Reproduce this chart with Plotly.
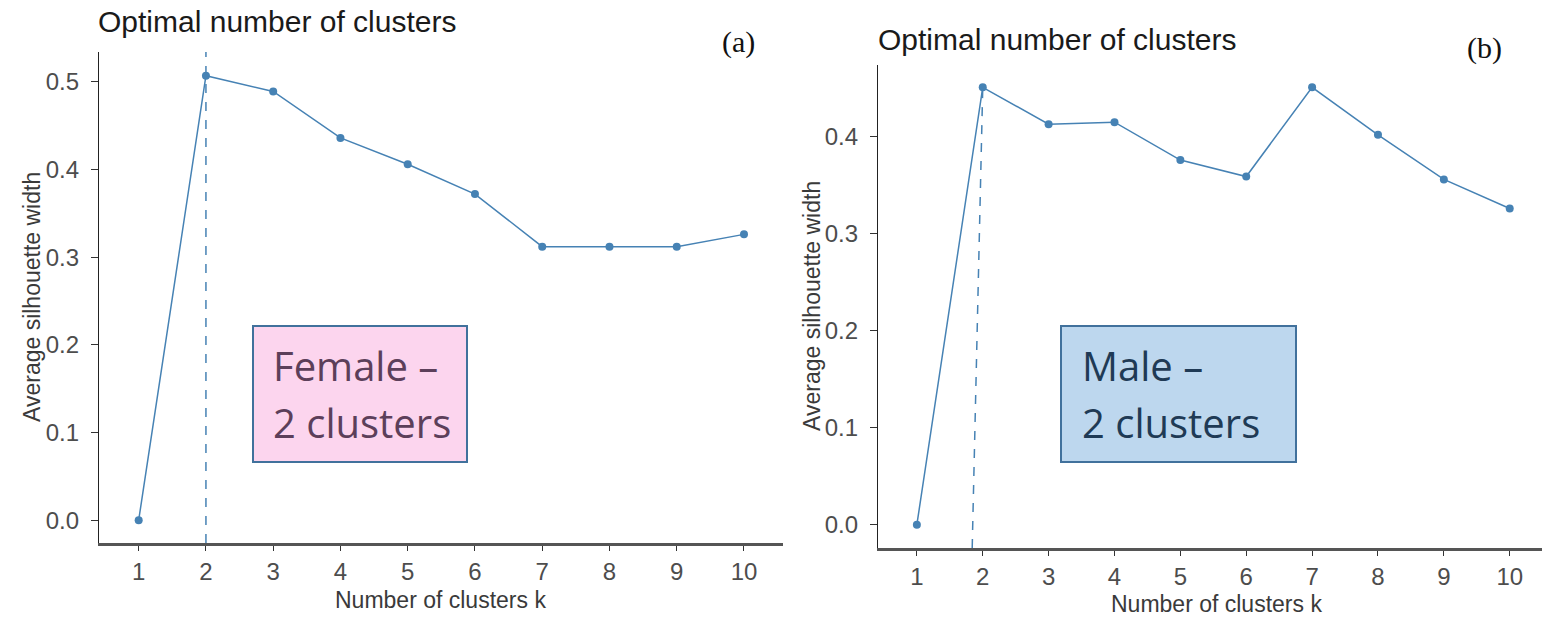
import plotly.graph_objects as go

k_values = [1, 2, 3, 4, 5, 6, 7, 8, 9, 10]
female_sil = [0.0, 0.507, 0.489, 0.436, 0.406, 0.372, 0.312, 0.312, 0.312, 0.326]
male_sil = [0.0, 0.451, 0.413, 0.415, 0.376, 0.359, 0.451, 0.402, 0.356, 0.326]
female_ticks = [0.0, 0.1, 0.2, 0.3, 0.4, 0.5]
male_ticks = [0.0, 0.1, 0.2, 0.3, 0.4]
optimal_k = 2

title_text = "Optimal number of clusters"
x_title = "Number of clusters k"
y_title = "Average silhouette width"

W, H = 1542, 617
LINE = "#4682B4"

def px(x):
    return x / W

def py(y):
    return 1 - y / H

fig = go.Figure()
fig.add_trace(go.Scatter(x=k_values, y=female_sil, mode="lines+markers",
                         line=dict(color=LINE, width=1.5),
                         marker=dict(color=LINE, size=8),
                         xaxis="x", yaxis="y", showlegend=False))
fig.add_trace(go.Scatter(x=k_values, y=male_sil, mode="lines+markers",
                         line=dict(color=LINE, width=1.5),
                         marker=dict(color=LINE, size=8),
                         xaxis="x2", yaxis="y2", showlegend=False))

tickfont = dict(family="Liberation Sans, Arial", size=24, color="#4D4D4D")
titlefont = dict(family="Liberation Sans, Arial", size=23, color="#3a3a3a")

def xaxis(domain, rng, anchor):
    return dict(domain=domain, range=rng, anchor=anchor, tickmode="array",
                tickvals=k_values, ticktext=[str(k) for k in k_values],
                showline=True, linecolor="#555555", linewidth=2.5,
                ticks="outside", ticklen=5, tickwidth=1.2, tickcolor="#333333",
                ticklabelstandoff=0, automargin=False,
                showgrid=False, zeroline=False, tickfont=tickfont)

def yaxis(domain, rng, anchor, ticks):
    return dict(domain=domain, range=rng, anchor=anchor, tickmode="array",
                tickvals=ticks, ticktext=[f"{t:.1f}" for t in ticks],
                showline=True, linecolor="#222222", linewidth=1.2,
                ticks="outside", ticklen=7, tickwidth=1.2, tickcolor="#333333",
                ticklabelstandoff=7, automargin=False,
                showgrid=False, zeroline=False, tickfont=tickfont)

fig.update_layout(
    width=W, height=H, margin=dict(l=0, r=0, t=0, b=0),
    paper_bgcolor="white", plot_bgcolor="white",
    xaxis=xaxis([px(99), px(783)], [0.41, 10.58], "y"),
    yaxis=yaxis([py(543), py(52)], [-0.026, 0.534], "x", female_ticks),
    xaxis2=xaxis([px(878), 1.0], [0.41, 10.49], "y2"),
    yaxis2=yaxis([py(548), py(65)], [-0.024, 0.474], "x2", male_ticks),
)

# optimal k dashed lines
fig.add_shape(type="line", xref="x", yref="y domain", x0=optimal_k, x1=optimal_k,
              y0=0, y1=1, line=dict(color=LINE, width=1.5, dash="dash"))
fig.add_shape(type="line", xref="x2", yref="y2", x0=optimal_k - 0.16, x1=optimal_k,
              y0=-0.024, y1=male_sil[optimal_k - 1],
              line=dict(color=LINE, width=1.5, dash="dash"))

# axis titles
for (xc, yc) in [(440, 600), (1216, 604)]:
    fig.add_annotation(text=x_title, xref="paper", yref="paper", x=px(xc), y=py(yc),
                       xanchor="center", yanchor="middle", showarrow=False, font=titlefont)
for (xc, yc) in [(32, 297), (812, 306)]:
    fig.add_annotation(text=y_title, xref="paper", yref="paper", x=px(xc), y=py(yc),
                       xanchor="center", yanchor="middle", showarrow=False,
                       textangle=-90, font=titlefont)

# panel titles
fig.add_annotation(text=title_text, xref="paper", yref="paper", x=px(96), y=py(22),
                   xanchor="left", yanchor="middle", showarrow=False,
                   font=dict(family="Liberation Sans, Arial", size=30, color="#1a1a1a"))
fig.add_annotation(text=title_text, xref="paper", yref="paper", x=px(876), y=py(40),
                   xanchor="left", yanchor="middle", showarrow=False,
                   font=dict(family="Liberation Sans, Arial", size=30, color="#1a1a1a"))
fig.add_annotation(text="(a)", xref="paper", yref="paper", x=px(738), y=py(42),
                   xanchor="center", yanchor="middle", showarrow=False,
                   font=dict(family="Liberation Serif, Times New Roman", size=30, color="#111111"))
fig.add_annotation(text="(b)", xref="paper", yref="paper", x=px(1484), y=py(48),
                   xanchor="center", yanchor="middle", showarrow=False,
                   font=dict(family="Liberation Serif, Times New Roman", size=30, color="#111111"))

# label boxes
boxes = [
    dict(x0=253, x1=467, fill="#FCD5EE", color="#5C3F5A", tx=271, lines=["Female –", "2 clusters"]),
    dict(x0=1061, x1=1296, fill="#BDD7EE", color="#1F3A55", tx=1080, lines=["Male –", "2 clusters"]),
]
for b in boxes:
    fig.add_shape(type="rect", xref="paper", yref="paper",
                  x0=px(b["x0"]), x1=px(b["x1"]), y0=py(462), y1=py(326),
                  fillcolor=b["fill"], line=dict(color="#41719C", width=2), layer="above")
    for i, line in enumerate(b["lines"]):
        fig.add_annotation(text=line, xref="paper", yref="paper", x=px(b["tx"]),
                           y=py(366 + 56 * i), xanchor="left", yanchor="middle",
                           showarrow=False,
                           font=dict(family="Open Sans", size=40, color=b["color"]))

fig.write_html("out.html", config={"displayModeBar": False},
               post_script="document.body.style.margin='0';document.body.style.overflow='hidden';")
